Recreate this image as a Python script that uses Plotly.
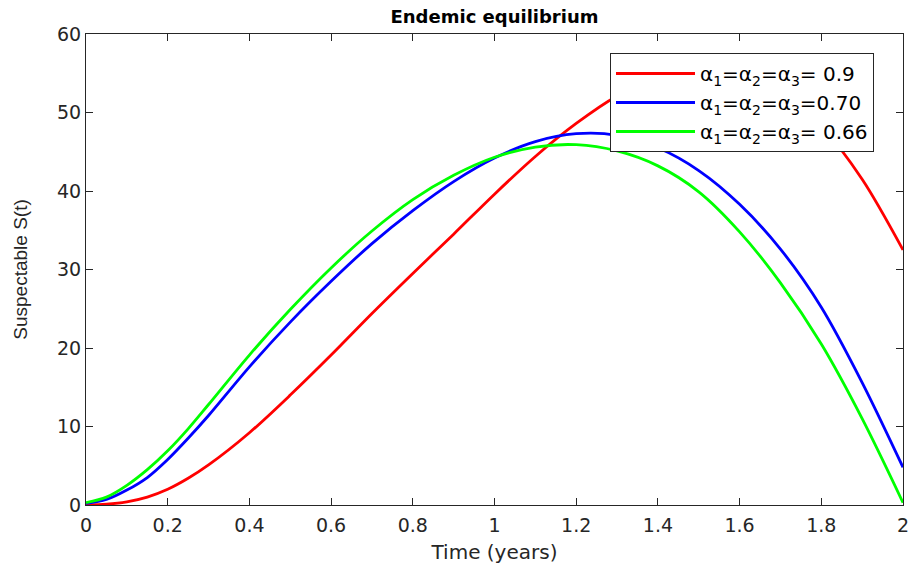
import plotly.graph_objects as go

# ---- data ----
time_years = [0.0, 0.05, 0.1, 0.15, 0.2, 0.25, 0.3, 0.4, 0.5, 0.6, 0.7, 0.8, 0.9, 1.0,
              1.1, 1.2, 1.3, 1.4, 1.5, 1.6, 1.7, 1.8, 1.9, 2.0]
s_alpha_090 = [0.0, 0.1, 0.4, 1.0, 2.0, 3.4, 5.1, 9.2, 14.0, 19.1, 24.4, 29.5, 34.5, 39.6,
               44.4, 48.6, 52.1, 54.5, 55.6, 55.3, 53.0, 48.3, 41.5, 32.5]
s_alpha_070 = [0.2, 0.7, 1.9, 3.5, 5.8, 8.5, 11.4, 17.6, 23.3, 28.5, 33.3, 37.5, 41.2, 44.2,
               46.3, 47.3, 47.1, 45.5, 42.6, 38.3, 32.6, 25.2, 15.6, 4.8]
s_alpha_066 = [0.3, 1.0, 2.5, 4.5, 6.9, 9.7, 12.8, 19.1, 24.9, 30.2, 34.9, 38.9, 42.0, 44.3,
               45.6, 45.9, 45.1, 43.2, 39.9, 34.8, 28.3, 20.5, 11.0, 0.3]
series_names = ["α<sub>1</sub>=α<sub>2</sub>=α<sub>3</sub>= 0.9",
                "α<sub>1</sub>=α<sub>2</sub>=α<sub>3</sub>=0.70",
                "α<sub>1</sub>=α<sub>2</sub>=α<sub>3</sub>= 0.66"]
series_colors = ["#ff0000", "#0000ff", "#00ff00"]

AXIS_COLOR = "#262626"
FONT = "DejaVu Sans"

fig = go.Figure()
for name, ys, col in zip(series_names,
                         [s_alpha_090, s_alpha_070, s_alpha_066],
                         series_colors):
    fig.add_trace(go.Scatter(
        x=time_years, y=ys, mode="lines", name=name,
        line=dict(color=col, width=2.8, shape="spline", smoothing=0.9),
    ))

fig.update_layout(
    width=912, height=569,
    margin=dict(l=86, r=9, t=34, b=64),
    paper_bgcolor="white", plot_bgcolor="white",
    font=dict(family=FONT, size=19, color=AXIS_COLOR),
    title=dict(text="<b>Endemic equilibrium</b>", x=0.5, xref="paper",
               y=1 - 17 / 569, yanchor="middle",
               font=dict(family=FONT, size=18, color="black")),
    showlegend=True,
    legend=dict(x=(610 - 86) / 817, y=(505 - 53) / 471,
                xanchor="left", yanchor="top", itemwidth=79,
                bgcolor="white", bordercolor=AXIS_COLOR, borderwidth=1,
                font=dict(family=FONT, size=20, color="black"),
                traceorder="normal"),
    xaxis=dict(range=[0, 2], dtick=0.2, tick0=0, showgrid=False, zeroline=False,
               showline=True, linecolor=AXIS_COLOR, linewidth=1, mirror="ticks",
               ticks="inside", ticklen=7, tickcolor=AXIS_COLOR, automargin=False,
               ticklabelstandoff=3,
               tickfont=dict(family=FONT, size=19, color=AXIS_COLOR),
               title=dict(text="Time (years)", standoff=10,
                          font=dict(family=FONT, size=20, color=AXIS_COLOR))),
    yaxis=dict(range=[0, 60], dtick=10, tick0=0, showgrid=False, zeroline=False,
               showline=True, linecolor=AXIS_COLOR, linewidth=1, mirror="ticks",
               ticks="inside", ticklen=7, tickcolor=AXIS_COLOR, automargin=False,
               tickfont=dict(family=FONT, size=19, color=AXIS_COLOR),
               title=dict(text="Suspectable S(t)", standoff=24,
                          font=dict(family="Liberation Sans", size=19, color=AXIS_COLOR))),
)

fig.write_html("out.html", config={"displayModeBar": False},
               post_script="document.body.style.margin='0';")
